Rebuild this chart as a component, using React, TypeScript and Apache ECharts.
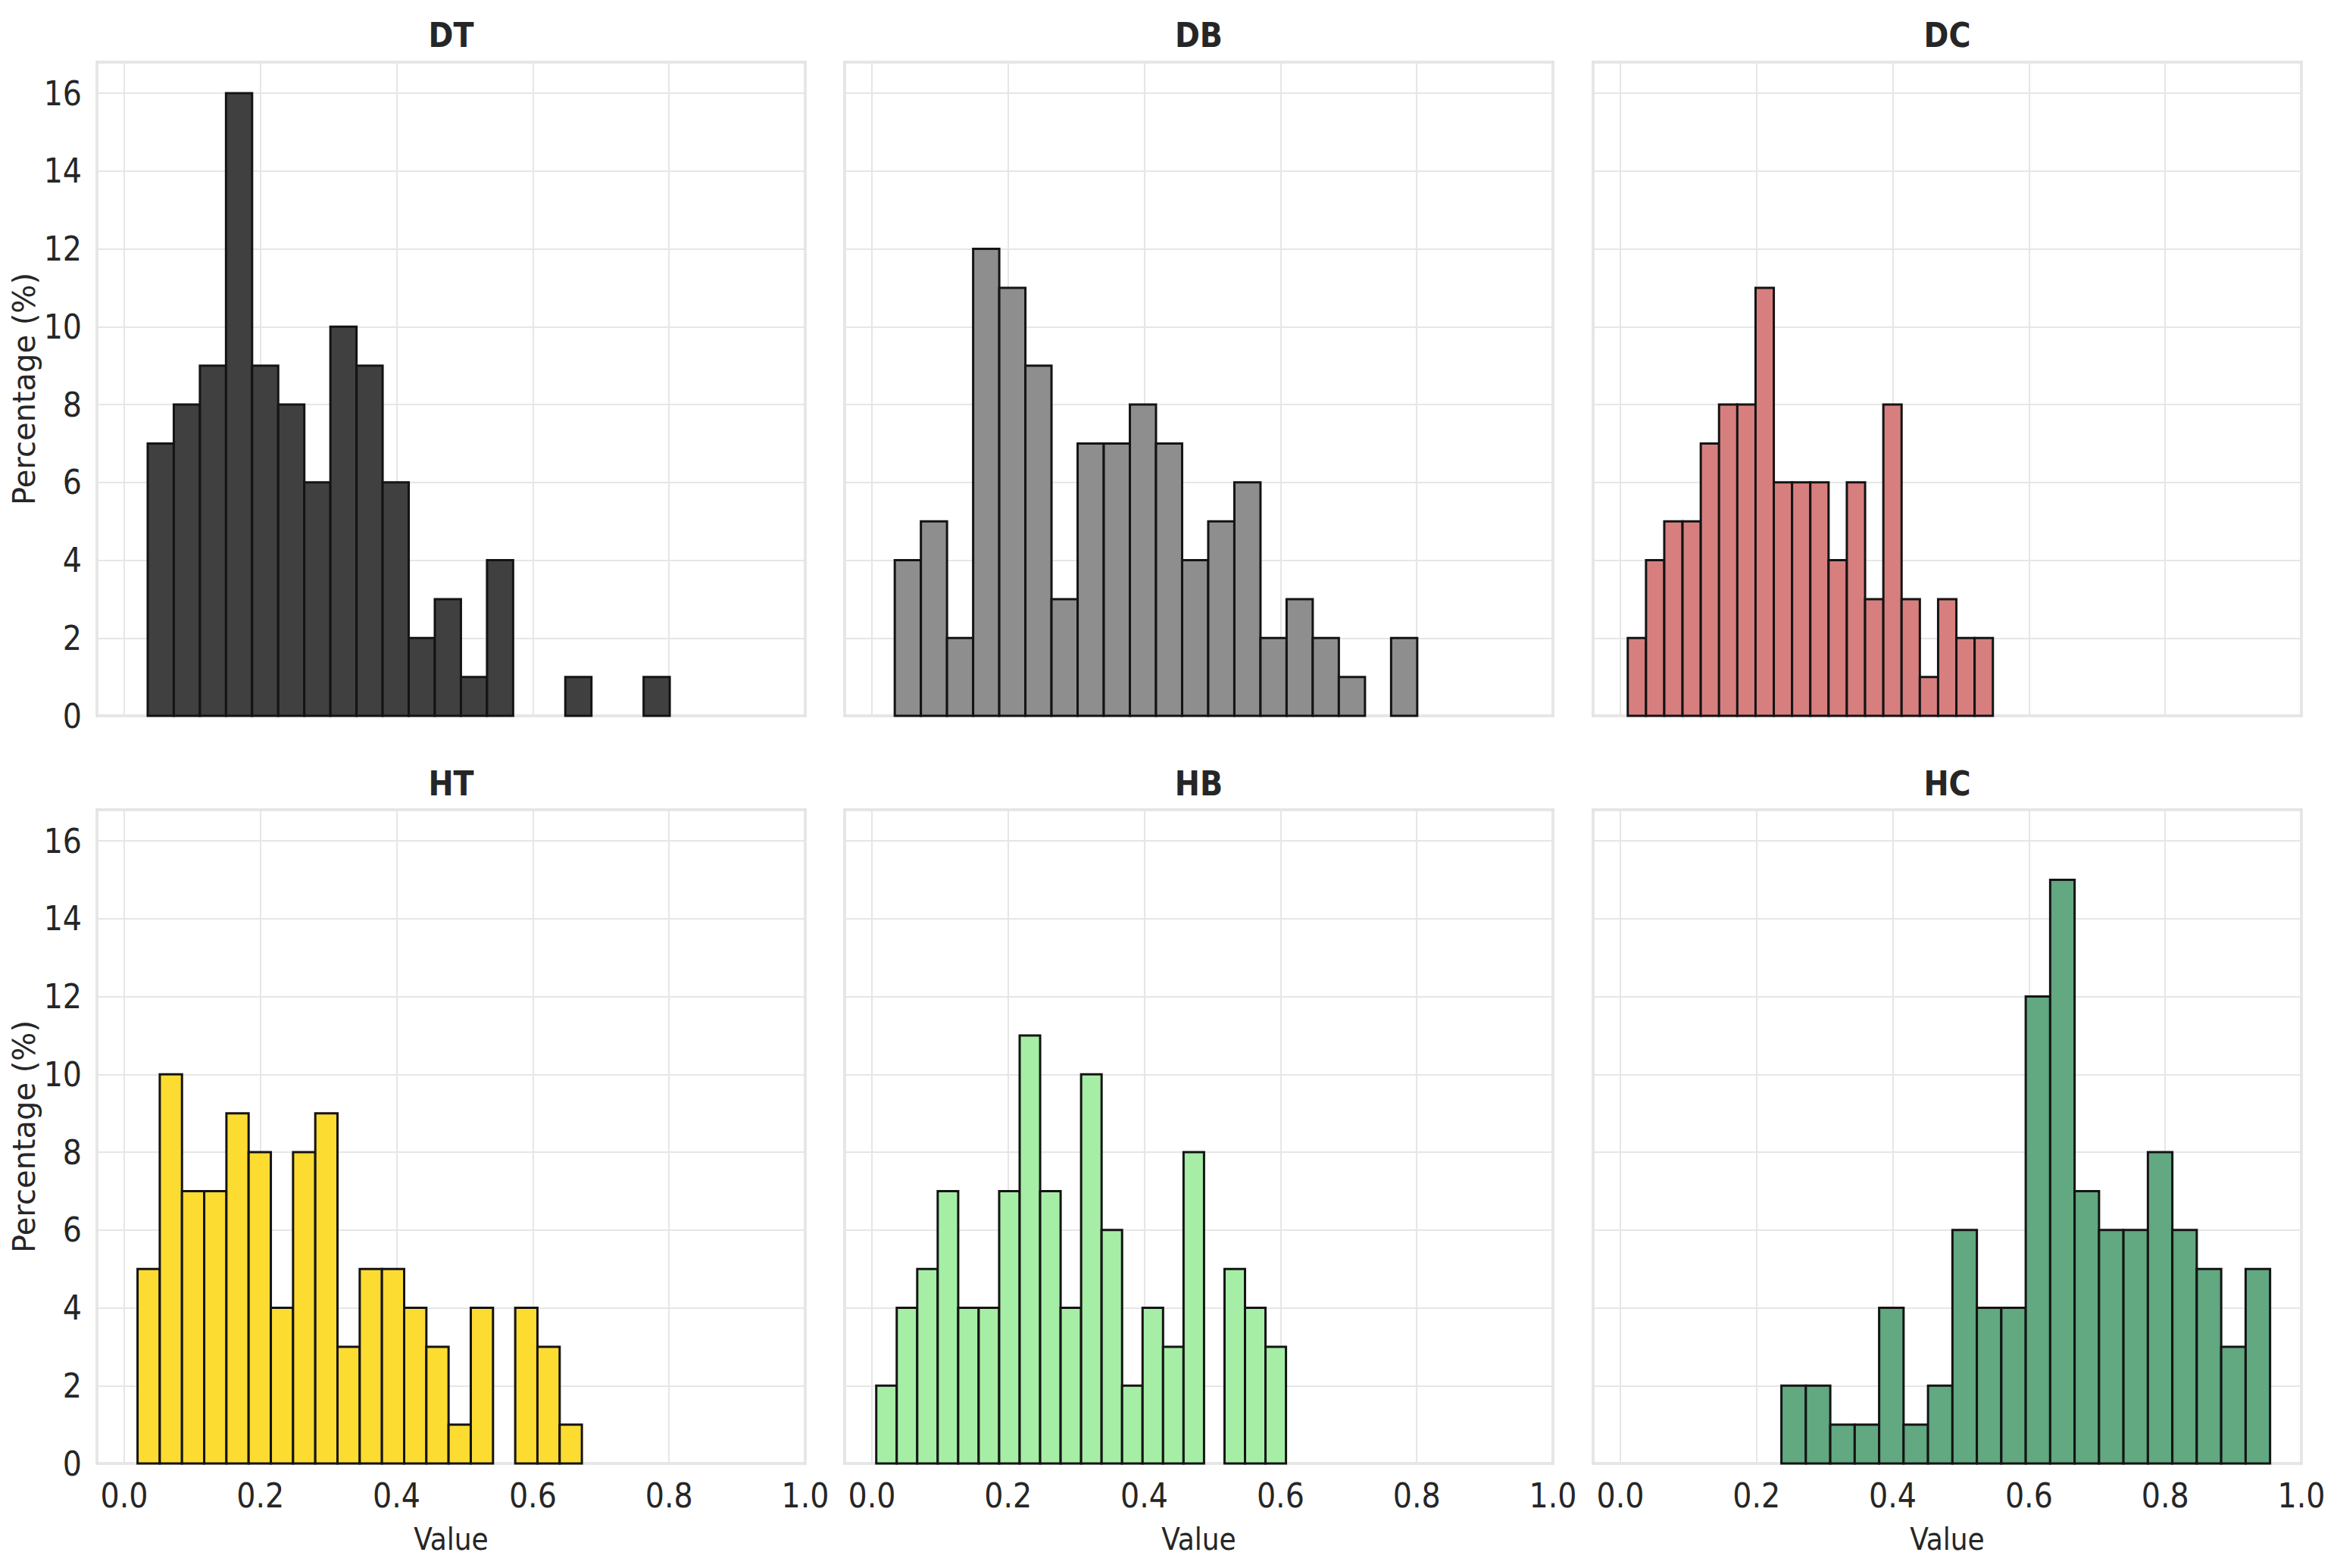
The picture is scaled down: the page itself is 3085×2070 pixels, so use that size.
import React, { useEffect, useRef } from 'react';
import * as echarts from 'echarts';

// 面板名称与颜色
const panelNames = ['DT', 'DB', 'DC', 'HT', 'HB', 'HC'];
const panelColors = ['#404040', '#8e8e8e', '#d77f7f', '#fddc32', '#a6eea6', '#62a880'];

// 直方图范围 [min, max]，每个面板 20 个区间
const dtRange = [0.0345, 0.801];
const dbRange = [0.0336, 0.8007];
const dcRange = [0.0109, 0.547];
const htRange = [0.0196, 0.672];
const hbRange = [0.0064, 0.608];
const hcRange = [0.2365, 0.954];

// 各区间百分比
const dtCounts = [7, 8, 9, 16, 9, 8, 6, 10, 9, 6, 2, 3, 1, 4, 0, 0, 1, 0, 0, 1];
const dbCounts = [4, 5, 2, 12, 11, 9, 3, 7, 7, 8, 7, 4, 5, 6, 2, 3, 2, 1, 0, 2];
const dcCounts = [2, 4, 5, 5, 7, 8, 8, 11, 6, 6, 6, 4, 6, 3, 8, 3, 1, 3, 2, 2];
const htCounts = [5, 10, 7, 7, 9, 8, 4, 8, 9, 3, 5, 5, 4, 3, 1, 4, 0, 4, 3, 1];
const hbCounts = [2, 4, 5, 7, 4, 4, 7, 11, 7, 4, 10, 6, 2, 4, 3, 8, 0, 5, 4, 3];
const hcCounts = [2, 2, 1, 1, 4, 1, 2, 6, 4, 4, 12, 15, 7, 6, 6, 8, 6, 5, 3, 5];

// 坐标轴设置
const xMin = -0.04;
const xMax = 1.0;
const yMax = 16.8;

const ranges = [dtRange, dbRange, dcRange, htRange, hbRange, hcRange];
const counts = [dtCounts, dbCounts, dcCounts, htCounts, hbCounts, hcCounts];

const FONT = '"DejaVu Sans Condensed", "DejaVu Sans", sans-serif';
const FONT_WIDE = '"DejaVu Sans", sans-serif';
const TEXT_COLOR = '#262626';

const App: React.FC = () => {
  const chartRef = useRef<HTMLDivElement>(null);

  useEffect(() => {
    document.body.style.margin = '0';
    if (!chartRef.current) return;
    const chart = echarts.init(chartRef.current, undefined, { renderer: 'svg' });

    const lefts = [128, 1115, 2103];
    const tops = [82, 1069];
    const gw = 935;
    const gh = 863;

    const grids: any[] = [];
    const xAxes: any[] = [];
    const yAxes: any[] = [];
    const series: any[] = [];
    const texts: any[] = [];

    panelNames.forEach((name, i) => {
      const row = Math.floor(i / 3);
      const col = i % 3;
      grids.push({
        left: lefts[col],
        top: tops[row],
        width: gw,
        height: gh,
        show: true,
        borderColor: '#d0d0d0',
        borderWidth: 3,
        backgroundColor: '#ffffff'
      });
      xAxes.push({
        type: 'value',
        gridIndex: i,
        min: xMin,
        max: xMax,
        minInterval: 0.2,
        maxInterval: 0.2,
        name: row === 1 ? 'Value' : '',
        nameLocation: 'middle',
        nameGap: 80,
        nameTextStyle: { fontSize: 40, color: TEXT_COLOR, fontFamily: FONT },
        axisLine: { show: false },
        axisTick: { show: false },
        axisLabel: {
          show: row === 1,
          fontSize: 44,
          color: TEXT_COLOR,
          fontFamily: FONT,
          margin: 20,
          formatter: (v: number) => (v < -0.001 ? '' : v.toFixed(1))
        },
        splitLine: { show: true, lineStyle: { color: '#e6e6e6', width: 2 } }
      });
      yAxes.push({
        type: 'value',
        gridIndex: i,
        min: 0,
        max: yMax,
        interval: 2,
        name: col === 0 ? 'Percentage (%)' : '',
        nameLocation: 'middle',
        nameGap: 76,
        nameTextStyle: { fontSize: 40, color: TEXT_COLOR, fontFamily: FONT_WIDE },
        axisLine: { show: false },
        axisTick: { show: false },
        axisLabel: {
          show: col === 0,
          fontSize: 44,
          color: TEXT_COLOR,
          fontFamily: FONT,
          margin: 20,
          formatter: (v: number) => (v > 16.01 ? '' : String(v))
        },
        splitLine: { show: true, lineStyle: { color: '#e6e6e6', width: 2 } }
      });

      const [lo, hi] = ranges[i];
      const n = counts[i].length;
      const w = (hi - lo) / n;
      const data = counts[i].map((c, k) => [lo + k * w, lo + (k + 1) * w, c]);

      series.push({
        type: 'custom',
        name,
        xAxisIndex: i,
        yAxisIndex: i,
        data,
        encode: { x: [0, 1], y: 2 },
        renderItem: (params: any, api: any) => {
          const h = api.value(2);
          if (!h) return null;
          const p0 = api.coord([api.value(0), h]);
          const p1 = api.coord([api.value(1), 0]);
          return {
            type: 'rect',
            shape: { x: p0[0], y: p0[1], width: p1[0] - p0[0], height: p1[1] - p0[1] },
            style: { fill: panelColors[i], stroke: '#141414', lineWidth: 3 }
          };
        },
        z: 5
      });

      texts.push({
        type: 'text',
        x: lefts[col] + gw / 2,
        y: row === 0 ? 46 : 1034,
        style: {
          text: name,
          fontSize: 44,
          fontWeight: 'bold',
          fontFamily: FONT,
          fill: TEXT_COLOR,
          textAlign: 'center',
          textVerticalAlign: 'middle'
        }
      });
    });

    chart.setOption({
      animation: false,
      backgroundColor: '#ffffff',
      grid: grids,
      xAxis: xAxes,
      yAxis: yAxes,
      series,
      graphic: texts
    });

    return () => {
      chart.dispose();
    };
  }, []);

  return <div ref={chartRef} style={{ width: 3085, height: 2070 }} />;
};

export default App;
